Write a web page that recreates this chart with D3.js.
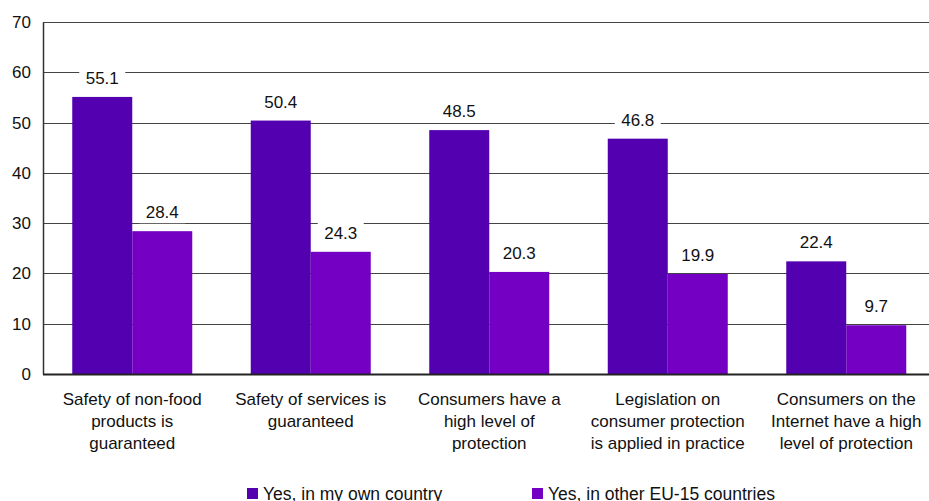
<!DOCTYPE html>
<html>
<head>
<meta charset="utf-8">
<script src="https://cdn.jsdelivr.net/npm/d3@7"></script>
<style>
  body { margin: 0; background: #fff; }
  svg { display: block; font-family: "Liberation Sans", Arial, sans-serif; }
</style>
</head>
<body>
<svg id="chart" width="929" height="501"></svg>
<script>
const categories = [
  ["Safety of non-food", "products is", "guaranteed"],
  ["Safety of services is", "guaranteed"],
  ["Consumers have a", "high level of", "protection"],
  ["Legislation on", "consumer protection", "is applied in practice"],
  ["Consumers on the", "Internet have a high", "level of protection"]
];
const seriesNames = ["Yes, in my own country", "Yes, in other EU-15 countries"];
const ownCountry = [55.1, 50.4, 48.5, 46.8, 22.4];
const otherCountries = [28.4, 24.3, 20.3, 19.9, 9.7];
const yTicks = [0, 10, 20, 30, 40, 50, 60, 70];
const colors = ["#5200b0", "#7400c4"];

const svg = d3.select("#chart");
const plotLeft = 43, plotTop = 22, plotBottom = 374, step = 178.5;
const fontSize = 17;

const x = d3.scaleBand()
  .domain(d3.range(categories.length))
  .range([plotLeft, plotLeft + step * categories.length])
  .paddingInner(0).paddingOuter(0);

const xInner = d3.scaleBand()
  .domain([0, 1])
  .range([0, x.bandwidth()])
  .paddingInner(0).paddingOuter(0.4875);

const y = d3.scaleLinear().domain([0, 70]).range([plotBottom, plotTop]);

// gridlines
svg.append("g")
  .selectAll("line")
  .data(yTicks.filter(d => d > 0))
  .join("line")
  .attr("x1", plotLeft).attr("x2", 929)
  .attr("y1", d => Math.round(y(d)) + 0.5)
  .attr("y2", d => Math.round(y(d)) + 0.5)
  .attr("stroke", "#444").attr("stroke-width", 1);

// y axis
const yAxis = svg.append("g")
  .attr("transform", `translate(${plotLeft},0)`)
  .call(d3.axisLeft(y).tickValues(yTicks).tickSize(0).tickPadding(12));
yAxis.select(".domain").attr("stroke", "#333").attr("stroke-width", 1.5);
yAxis.selectAll("text")
  .attr("font-size", fontSize).attr("fill", "#111")
  .attr("font-family", "Liberation Sans, Arial, sans-serif");

const series = [ownCountry, otherCountries];

// bars
const groups = svg.append("g")
  .selectAll("g")
  .data(series)
  .join("g")
  .attr("fill", (d, i) => colors[i]);

groups.selectAll("rect")
  .data((d, s) => d.map((v, i) => ({ v, i, s })))
  .join("rect")
  .attr("x", d => x(d.i) + xInner(d.s))
  .attr("width", xInner.bandwidth())
  .attr("y", d => y(d.v))
  .attr("height", d => y(0) - y(d.v));

// baseline
svg.append("line")
  .attr("x1", plotLeft).attr("x2", 929)
  .attr("y1", plotBottom + 0.5).attr("y2", plotBottom + 0.5)
  .attr("stroke", "#222").attr("stroke-width", 2);

// value labels with white backgrounds
const labels = svg.append("g")
  .selectAll("g")
  .data(series.flatMap((d, s) => d.map((v, i) => ({ v, i, s }))))
  .join("g")
  .attr("transform", d => `translate(${x(d.i) + xInner(d.s) + xInner.bandwidth() / 2},${y(d.v) - 13})`);

labels.append("rect")
  .attr("x", -23).attr("y", -17).attr("width", 46).attr("height", 22)
  .attr("fill", "#fff");

labels.append("text")
  .attr("text-anchor", "middle")
  .attr("font-size", fontSize).attr("fill", "#111")
  .text(d => d.v.toFixed(1));

// category labels
const catLabels = svg.append("g")
  .selectAll("text")
  .data(categories)
  .join("text")
  .attr("text-anchor", "middle")
  .attr("font-size", fontSize).attr("fill", "#111")
  .attr("x", (d, i) => x(i) + x.bandwidth() / 2)
  .attr("y", 405);

catLabels.selectAll("tspan")
  .data(d => d)
  .join("tspan")
  .attr("x", function () { return d3.select(this.parentNode).attr("x"); })
  .attr("dy", (d, i) => i === 0 ? 0 : 22)
  .text(d => d);

// legend
const legendX = [247, 532];
const legend = svg.append("g")
  .selectAll("g")
  .data(seriesNames)
  .join("g")
  .attr("transform", (d, i) => `translate(${legendX[i]},488)`);

legend.append("rect")
  .attr("width", 11).attr("height", 11)
  .attr("fill", (d, i) => colors[i]);

legend.append("text")
  .attr("x", 16).attr("y", 11.5)
  .attr("font-size", 17.5).attr("fill", "#111")
  .text(d => d);
</script>
</body>
</html>
